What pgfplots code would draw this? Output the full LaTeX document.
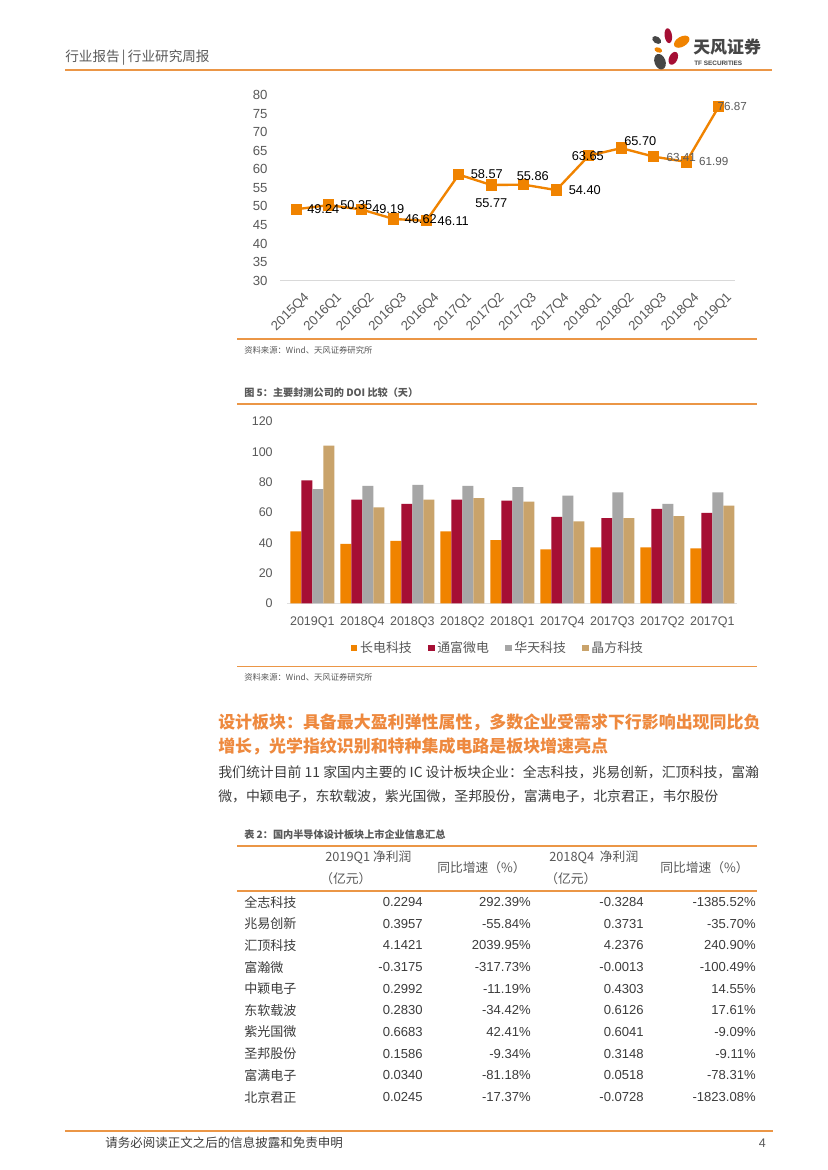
\documentclass[border=0pt]{standalone}
\usepackage{fontspec}
\setmainfont{Liberation Sans}
\newfontfamily\cjk{Noto Sans CJK SC}
\usepackage{pgfplots}
\pgfplotsset{compat=1.18}
\usepackage{pgfplotstable}

\definecolor{tforange}{RGB}{240,131,0}
\definecolor{tfred}{RGB}{165,15,52}
\definecolor{tfgray}{RGB}{166,166,166}
\definecolor{tftan}{RGB}{201,163,107}
\definecolor{ruleorange}{RGB}{235,150,70}
\definecolor{headorange}{RGB}{238,137,62}
\definecolor{txtgray}{RGB}{89,89,89}
\definecolor{darktxt}{RGB}{60,60,60}
\definecolor{logogray}{RGB}{70,70,70}
\newcommand\fs[1]{\fontsize{#1}{#1}\selectfont}

\pgfplotstableread{
x y dx dyu lab
0 49.24 27 0 49.24
1 50.35 27.5 0 50.35
2 49.19 27 0 49.19
3 46.62 27 0 46.62
4 46.11 27 0 46.11
5 58.57 28 0 58.57
6 55.77 0 -18 55.77
7 55.86 9 9 55.86
8 54.40 28.5 0 54.40
9 63.65 -1 0 63.65
10 65.70 19 7 65.70
11 63.41 27.5 -1 63.41
12 61.99 27.5 0 61.99
13 76.87 13.5 0 76.87
}\linedata

\pgfplotstableread{
x a b c d
0 47.5 81.2 75.5 104.2
1 39.2 68.5 77.5 63.3
2 41.2 65.7 78.2 68.5
3 47.5 68.5 77.5 69.4
4 41.8 67.9 76.8 67.2
5 35.7 57.1 71.1 54.1
6 37.0 56.3 73.3 56.3
7 37.0 62.4 65.7 57.6
8 36.3 59.8 73.3 64.6
}\bardata

\begin{document}
\begin{tikzpicture}[x=0.72pt,y=-0.72pt]
\fill[white] (0,0) rectangle (827,1170);

% ---------- page header ----------
\node[anchor=west,inner sep=0,text=txtgray,font=\cjk\fs{9.8}] at (65,58) {行业报告\,|\,行业研究周报};
\draw[ruleorange,line width=1.8pt] (65,70) -- (772,70);
% logo
\fill[tfred,rotate around={8:(668.3,35.7)}] (668.3,35.7) ellipse (3.7 and 7.5);
\fill[logogray,rotate around={-35:(656.7,40)}] (656.7,40) ellipse (5 and 3.3);
\fill[tforange,rotate around={30:(681.7,41.7)}] (681.7,41.7) ellipse (8.5 and 5);
\fill[tforange,rotate around={-20:(658.3,50)}] (658.3,50) ellipse (4 and 2.5);
\fill[tfred,rotate around={-25:(673.3,58.3)}] (673.3,58.3) ellipse (4.2 and 6.8);
\fill[logogray,rotate around={20:(660,61.7)}] (660,61.7) ellipse (5.5 and 8);
\node[anchor=west,inner sep=0,text=logogray,font=\cjk\bfseries\fs{12.2}] at (693,47) {天风证券};
\node[anchor=west,inner sep=0,text=logogray,font=\bfseries\fs{4.6}] at (694,63.5) {TF SECURITIES};

% ---------- line chart ----------
\begin{axis}[
  at={(201.6pt,-202.104pt)}, anchor=south west,
  scale only axis, width=327.6pt, height=133.7pt,
  xmin=-0.5, xmax=13.5, ymin=30, ymax=80,
  ytick={30,35,...,80},
  xtick={0,...,13},
  xticklabels={2015Q4,2016Q1,2016Q2,2016Q3,2016Q4,2017Q1,2017Q2,2017Q3,2017Q4,2018Q1,2018Q2,2018Q3,2018Q4,2019Q1},
  axis x line*=bottom, axis y line*=left,
  y axis line style={draw=none},
  x axis line style={draw=black!15, line width=0.8pt, -},
  major tick length=0pt,
  tick label style={font=\fs{9.5}, text=txtgray},
  /pgf/number format/assume math mode=true,
  yticklabel style={xshift=-5.5pt},
  xticklabel style={rotate=45, anchor=north east, inner sep=0pt, xshift=-1.8pt, yshift=-8.8pt},
  clip=false,
]
\addplot[tforange, line width=1.7pt, mark=square*, mark size=3.2pt, mark options={solid}] table[x=x,y=y] {\linedata};
\addplot[draw=none, mark=none, restrict x to domain=0:10,
  point meta=explicit symbolic, nodes near coords,
  visualization depends on={\thisrow{dx} \as \dx},
  visualization depends on={\thisrow{dyu} \as \dy},
  nodes near coords style={anchor=center, inner sep=0pt, font=\fs{9.2}, text=black, xshift=\dx*0.72pt, yshift=\dy*0.72pt},
] table[x=x,y=y,meta=lab] {\linedata};
\addplot[draw=none, mark=none, restrict x to domain=11:13,
  point meta=explicit symbolic, nodes near coords,
  visualization depends on={\thisrow{dx} \as \dx},
  visualization depends on={\thisrow{dyu} \as \dy},
  nodes near coords style={anchor=center, inner sep=0pt, font=\fs{8.4}, text=txtgray, xshift=\dx*0.72pt, yshift=\dy*0.72pt},
] table[x=x,y=y,meta=lab] {\linedata};
\end{axis}

\draw[ruleorange,line width=1.1pt] (237,339) -- (757,339);
\node[anchor=west,inner sep=0,text=txtgray,font=\cjk\fs{6}] at (244,350) {资料来源：Wind、天风证券研究所};

% ---------- bar chart ----------
\node[anchor=west,inner sep=0,text=txtgray,font=\cjk\bfseries\fs{7.3}] at (244,393) {图 5：主要封测公司的 DOI 比较（天）};
\draw[ruleorange,line width=1.1pt] (237,404) -- (757,404);

\begin{axis}[
  at={(206.856pt,-434.376pt)}, anchor=south west,
  scale only axis, width=324pt, height=130.8pt,
  xmin=-0.5, xmax=8.5, ymin=0, ymax=120,
  ytick={0,20,...,120},
  xtick={0,...,8},
  xticklabels={2019Q1,2018Q4,2018Q3,2018Q2,2018Q1,2017Q4,2017Q3,2017Q2,2017Q1},
  ybar=0pt, bar width=0.22,
  axis x line*=bottom, axis y line*=left,
  y axis line style={draw=none},
  x axis line style={draw=black!12, line width=0.8pt, -},
  major tick length=0pt,
  tick label style={font=\fs{9}, text=txtgray},
  /pgf/number format/assume math mode=true,
  yticklabel style={xshift=-7pt},
  xticklabel style={yshift=-6.5pt},
  legend style={at={(0.469,-0.246)}, anchor=center, draw=none, fill=none,
    legend columns=4, font=\cjk\fs{9.3}, text=txtgray, inner sep=0pt,
    /tikz/every even column/.append style={column sep=9.5pt}},
  legend image code/.code={\fill[#1] (0pt,-2.4pt) rectangle (4.8pt,2.4pt);},
  clip=false,
]
\addplot[fill=tforange, draw=none] table[x=x,y=a] {\bardata};
\addplot[fill=tfred, draw=none] table[x=x,y=b] {\bardata};
\addplot[fill=tfgray, draw=none] table[x=x,y=c] {\bardata};
\addplot[fill=tftan, draw=none] table[x=x,y=d] {\bardata};
\legend{长电科技,通富微电,华天科技,晶方科技}
\end{axis}

\draw[ruleorange,line width=1.1pt] (237,666.7) -- (757,666.7);
\node[anchor=west,inner sep=0,text=txtgray,font=\cjk\fs{6}] at (244,677) {资料来源：Wind、天风证券研究所};

% ---------- text ----------
\node[anchor=west,inner sep=0,text=headorange,font=\cjk\bfseries\fs{12.2}] at (218,722) {设计板块：具备最大盈利弹性属性，多数企业受需求下行影响出现同比负};
\node[anchor=west,inner sep=0,text=headorange,font=\cjk\bfseries\fs{12.2}] at (218,746) {增长，光学指纹识别和特种集成电路是板块增速亮点};
\node[anchor=west,inner sep=0,text=darktxt,font=\cjk\fs{10}] at (218,772) {我们统计目前 11 家国内主要的 IC 设计板块企业：全志科技，兆易创新，汇顶科技，富瀚};
\node[anchor=west,inner sep=0,text=darktxt,font=\cjk\fs{10}] at (218,796) {微，中颖电子，东软载波，紫光国微，圣邦股份，富满电子，北京君正，韦尔股份};

% ---------- table ----------
\node[anchor=west,inner sep=0,text=txtgray,font=\cjk\bfseries\fs{7.3}] at (244,835) {表 2：国内半导体设计板块上市企业信息汇总};
\draw[ruleorange,line width=1.1pt] (237,846) -- (757,846);
\begin{scope}[every node/.style={inner sep=0,text=txtgray,font=\cjk\fs{9.2}}]
\node[anchor=west] at (325,857) {2019Q1 净利润};
\node[anchor=west] at (320,879) {（亿元）};
\node[anchor=west] at (437,868) {同比增速（\%）};
\node[anchor=west] at (549,857) {2018Q4 \ 净利润};
\node[anchor=west] at (545,879) {（亿元）};
\node[anchor=west] at (660,868) {同比增速（\%）};
\end{scope}
\draw[ruleorange,line width=1.6pt] (237,891) -- (757,891);
\foreach \n/\a/\b/\c/\d [count=\i from 0] in {
  全志科技/0.2294/292.39\%/-0.3284/-1385.52\%,
  兆易创新/0.3957/-55.84\%/0.3731/-35.70\%,
  汇顶科技/4.1421/2039.95\%/4.2376/240.90\%,
  富瀚微/-0.3175/-317.73\%/-0.0013/-100.49\%,
  中颖电子/0.2992/-11.19\%/0.4303/14.55\%,
  东软载波/0.2830/-34.42\%/0.6126/17.61\%,
  紫光国微/0.6683/42.41\%/0.6041/-9.09\%,
  圣邦股份/0.1586/-9.34\%/0.3148/-9.11\%,
  富满电子/0.0340/-81.18\%/0.0518/-78.31\%,
  北京君正/0.0245/-17.37\%/-0.0728/-1823.08\%}{
  \pgfmathsetmacro\yy{902+21.67*\i}
  \node[anchor=west,inner sep=0,text=darktxt,font=\cjk\fs{9.4}] at (244,\yy) {\n};
  \node[anchor=east,inner sep=0,text=darktxt,font=\fs{9.4}] at (423,\yy) {\a};
  \node[anchor=east,inner sep=0,text=darktxt,font=\fs{9.4}] at (531,\yy) {\b};
  \node[anchor=east,inner sep=0,text=darktxt,font=\fs{9.4}] at (644,\yy) {\c};
  \node[anchor=east,inner sep=0,text=darktxt,font=\fs{9.4}] at (756,\yy) {\d};
}

% ---------- footer ----------
\draw[ruleorange,line width=1.6pt] (65,1131) -- (773,1131);
\node[anchor=west,inner sep=0,text=darktxt,font=\cjk\fs{9}] at (105,1143) {请务必阅读正文之后的信息披露和免责申明};
\node[anchor=east,inner sep=0,text=txtgray,font=\fs{9}] at (766,1143) {4};
\end{tikzpicture}
\end{document}
